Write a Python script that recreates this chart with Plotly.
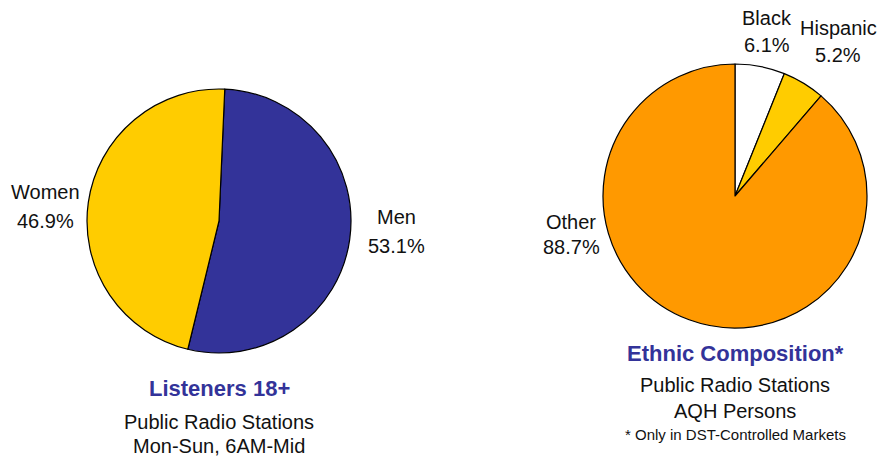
import plotly.graph_objects as go

W, H = 882, 460

gender_labels = ["Men", "Women"]
gender_values = [53.1, 46.9]
gender_colors = ["#333399", "#FFCC00"]

eth_labels = ["Black", "Hispanic", "Other"]
eth_values = [6.1, 5.2, 88.7]
eth_colors = ["#FFFFFF", "#FFCC00", "#FF9900"]

left_title = ["Listeners 18+", "Public Radio Stations", "Mon-Sun, 6AM-Mid"]
right_title = ["Ethnic Composition*", "Public Radio Stations", "AQH Persons", "* Only in DST-Controlled Markets"]

FONT = "Liberation Sans, Arial, sans-serif"

def dom(cx, cy, r):
    return dict(x=[(cx - r) / W, (cx + r) / W], y=[(H - cy - r) / H, (H - cy + r) / H])

fig = go.Figure()
fig.add_trace(go.Pie(
    labels=gender_labels, values=gender_values, sort=False, direction="clockwise",
    rotation=2.5, textinfo="none", hoverinfo="label+percent",
    marker=dict(colors=gender_colors, line=dict(color="#000000", width=1.2)),
    domain=dom(219, 221, 132), showlegend=False,
))
fig.add_trace(go.Pie(
    labels=eth_labels, values=eth_values, sort=False, direction="clockwise",
    rotation=0, textinfo="none", hoverinfo="label+percent",
    marker=dict(colors=eth_colors, line=dict(color="#000000", width=1.2)),
    domain=dom(735, 196, 132), showlegend=False,
))

def ann(text, px, py, size=20, color="#111111", bold=False):
    t = f"<b>{text}</b>" if bold else text
    fig.add_annotation(text=t, x=px / W, y=1 - py / H, xref="paper", yref="paper",
                       showarrow=False, xanchor="center", yanchor="middle",
                       font=dict(family=FONT, size=size, color=color))

# slice labels
slice_pos = {
    "Men": (396, 217, 29), "Women": (45, 192, 29),
    "Black": (767, 18, 27), "Hispanic": (838, 28, 27), "Other": (571, 222, 25),
}
for labs, vals in ((gender_labels, gender_values), (eth_labels, eth_values)):
    for l, v in zip(labs, vals):
        x, y, g = slice_pos[l]
        ann(l, x, y)
        ann(f"{v:.1f}%", x, y + g)

# titles
ann(left_title[0], 219, 388, size=22, color="#333399", bold=True)
ann(left_title[1], 219, 422, size=20)
ann(left_title[2], 219, 446, size=20)

ann(right_title[0], 735, 353, size=22, color="#333399", bold=True)
ann(right_title[1], 735, 385, size=20)
ann(right_title[2], 735, 411, size=20)
ann(right_title[3], 735, 434, size=15)

fig.update_layout(width=W, height=H, margin=dict(l=0, r=0, t=0, b=0),
                  paper_bgcolor="white", plot_bgcolor="white")
fig.write_html("out.html")
